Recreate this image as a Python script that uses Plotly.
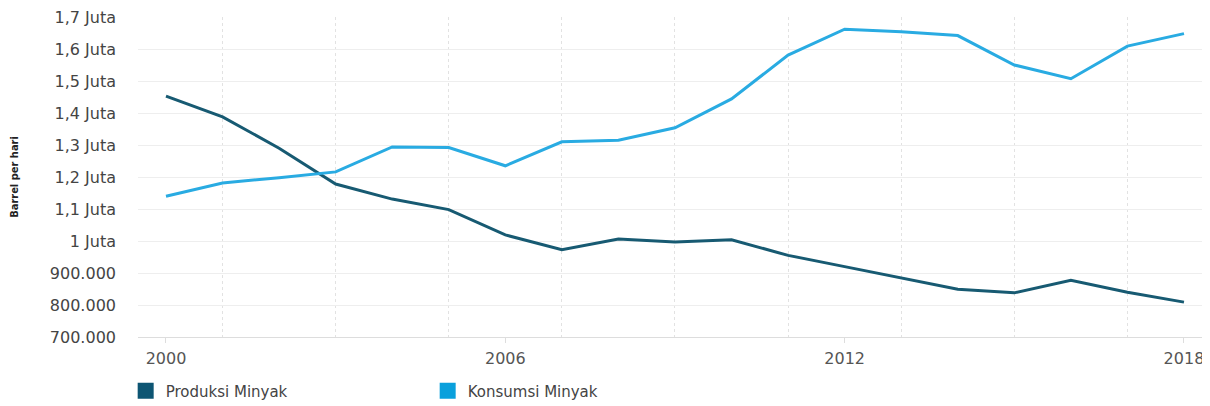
import plotly.graph_objects as go

years = list(range(2000, 2019))
produksi = [1453000, 1388000, 1290000, 1178000, 1131000, 1098000, 1019000, 973000,
            1006000, 997000, 1004000, 955000, 920000, 885000, 849000, 838000,
            877000, 840000, 809000]
konsumsi = [1140000, 1181000, 1198000, 1216000, 1294000, 1292000, 1235000, 1310000,
            1315000, 1354000, 1444000, 1581000, 1662000, 1654000, 1642000, 1550000,
            1507000, 1609000, 1648000]

y_tickvals = [700000, 800000, 900000, 1000000, 1100000, 1200000, 1300000,
              1400000, 1500000, 1600000, 1700000]
y_ticktext = ["700.000", "800.000", "900.000", "1 Juta", "1,1 Juta", "1,2 Juta",
              "1,3 Juta", "1,4 Juta", "1,5 Juta", "1,6 Juta", "1,7 Juta"]
x_tickvals = [2000, 2006, 2012, 2018]
x_gridvals = [2001, 2003, 2005, 2007, 2009, 2011, 2013, 2015, 2017]

c_prod = "#175a72"
c_kons = "#29abe2"
font_fam = "DejaVu Sans, Verdana, sans-serif"

fig = go.Figure()
fig.add_trace(go.Scatter(x=years, y=produksi, mode="lines", name="Produksi Minyak",
                         line=dict(color=c_prod, width=3), showlegend=False))
fig.add_trace(go.Scatter(x=years, y=konsumsi, mode="lines", name="Konsumsi Minyak",
                         line=dict(color=c_kons, width=3), showlegend=False))
# legend swatches
fig.add_trace(go.Scatter(x=[None], y=[None], mode="markers", name="Produksi Minyak",
                         marker=dict(symbol="square", size=16, color="#0d5573")))
fig.add_trace(go.Scatter(x=[None], y=[None], mode="markers", name="Konsumsi Minyak",
                         marker=dict(symbol="square", size=16, color="#0aa0dc")))

fig.update_layout(
    width=1202, height=398,
    margin=dict(l=130, r=0, t=9, b=69, autoexpand=False),
    paper_bgcolor="white", plot_bgcolor="white",
    font=dict(family=font_fam, color="#444444", size=14),
    showlegend=True,
    legend=dict(orientation="h", x=-0.0115, xanchor="left", y=-0.1175, yanchor="top",
                font=dict(size=15, color="#444444"), itemwidth=30,
                entrywidth=257, entrywidthmode="pixels", traceorder="normal"),
    xaxis=dict(range=[1999.505, 2018.46], tickvals=x_tickvals,
               ticktext=[str(v) for v in x_tickvals], automargin=False,
               ticklabeloverflow="allow",
               showgrid=False, zeroline=False,
               showline=True, linecolor="#dddddd", linewidth=1,
               ticks="outside", ticklen=5, tickcolor="#dddddd",
               ticklabelstandoff=2,
               tickfont=dict(size=16, color="#555555"),
               minor=dict(tickvals=x_gridvals, showgrid=True, gridcolor="#e2e2e2",
                          griddash="dot", gridwidth=1, ticks=""),
               fixedrange=True),
    yaxis=dict(range=[700000, 1700000], tickvals=y_tickvals, ticktext=y_ticktext,
               automargin=False, ticklabeloverflow="allow",
               showgrid=True, gridcolor="#eeeeee", gridwidth=1, zeroline=False,
               showline=False, ticks="", ticklabelstandoff=21,
               tickfont=dict(size=16, color="#444444"),
               title=dict(text="<b>Barrel per hari</b>", standoff=33,
                          font=dict(size=11, color="#222222",
                                    family="DejaVu Sans Condensed, DejaVu Sans, sans-serif")),
               fixedrange=True),
)

fig.write_html("out.html")
